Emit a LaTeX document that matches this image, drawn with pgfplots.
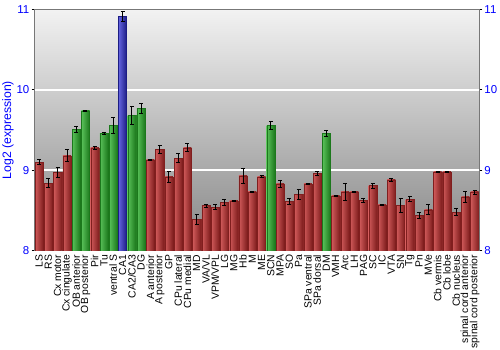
\documentclass[border=0pt]{standalone}
\usepackage{fontspec}
\setmainfont{Liberation Sans}
\usepackage{pgfplots}
\pgfplotsset{compat=1.18}
\usepackage{pgfplotstable}
\definecolor{redL}{HTML}{D05A5A}
\definecolor{redD}{HTML}{801E1E}
\definecolor{greenL}{HTML}{5AC25A}
\definecolor{greenD}{HTML}{1C781C}
\definecolor{blueL}{HTML}{6464E0}
\definecolor{blueD}{HTML}{1C1C84}
\definecolor{bgTop}{HTML}{F2F2F2}
\definecolor{bgBot}{HTML}{858585}
\definecolor{frame}{HTML}{777777}

\pgfplotstableread{
x y e
0 9.10 0.03
1 8.84 0.056
2 8.97 0.06
3 9.18 0.075
6 9.28 0.02
12 9.13 0.01
13 9.26 0.05
14 8.92 0.07
15 9.15 0.055
16 9.28 0.05
17 8.39 0.06
18 8.56 0.02
19 8.54 0.03
20 8.60 0.04
21 8.62 0.01
22 8.93 0.09
23 8.73 0.01
24 8.92 0.01
26 8.83 0.04
27 8.61 0.04
28 8.70 0.06
29 8.83 0.01
30 8.96 0.02
32 8.68 0.01
33 8.73 0.11
34 8.73 0.01
35 8.63 0.025
36 8.81 0.03
37 8.57 0.01
38 8.88 0.015
39 8.56 0.09
40 8.64 0.03
41 8.44 0.04
42 8.51 0.06
43 8.98 0.01
44 8.98 0.01
45 8.48 0.045
46 8.67 0.07
47 8.73 0.025
}\redtab

\pgfplotstableread{
x y e
4 9.51 0.04
5 9.74 0.005
7 9.46 0.01
8 9.56 0.10
10 9.68 0.11
11 9.77 0.06
25 9.56 0.05
31 9.46 0.04
}\greentab

\pgfplotstableread{
x y e
9 10.91 0.06
}\bluetab

\pgfplotsset{
  myerr/.style={
    error bars/.cd, y dir=both, y explicit,
    error bar style={black, line width=0.8bp},
    error mark options={rotate=90, black, mark size=2bp, line width=0.8bp}
  },
  onebar/.style={bar shift=0pt, x filter/.expression={abs(x-#1)<0.1 ? x : nan}},
}

\begin{document}
\begin{tikzpicture}
\useasboundingbox (-34.5bp,-99.3bp) rectangle (465.5bp,250.7bp);
\begin{axis}[
  at={(0,0)}, anchor=south west,
  scale only axis, width=444.8bp, height=241.4bp,
  xmin=-0.5, xmax=47.5, ymin=8, ymax=11,
  ybar, bar width=0.88,
  xtick={0,...,47},
  xticklabels={LS,RS,Cx motor,Cx cingulate,OB anterior,OB posterior,Pir,Tu,ventral S,CA1,CA2/CA3,DG,A anterior,A posterior,GP,CPu lateral,CPu medial,MD,VA/VL,VPM/VPL,LG,MG,Hb,M,ME,SCN,MPA,SO,Pa,SPa ventral,SPa dorsal,DM,VMH,Arc,LH,PAG,SC,IC,VTA,SN,Tg,Pn,MVe,Cb vermis,Cb lobe,Cb nucleus,spinal cord anterior,spinal cord posterior},
  xticklabel style={rotate=90, anchor=east, font=\fontsize{10.4}{11}\selectfont, inner sep=1pt, black},
  xtick style={draw=none},
  ytick={8,9,10,11}, ytick pos=left, tick align=outside, major tick length=3bp,
  ytick style={black, line width=1bp},
  yticklabel style={blue, font=\fontsize{11.5}{12}\selectfont, inner sep=2pt},
  /pgf/number format/assume math mode=true,
  ymajorgrids, grid style={white, line width=1.5bp},
  axis line style={draw=frame, line width=1bp},
  axis background/.style={top color=bgTop, bottom color=bgBot},
  ylabel={Log2 (expression)},
  ylabel style={blue, font=\fontsize{12.3}{13}\selectfont, at={(axis description cs:-0.0596,0.5)}, anchor=center},
]
\pgfplotsinvokeforeach{0,1,2,3,6,12,13,14,15,16,17,18,19,20,21,22,23,24,26,27,28,29,30,32,33,34,35,36,37,38,39,40,41,42,43,44,45,46,47}{
\addplot[onebar=#1, draw=redD, line width=0.3bp, left color=redL, right color=redD, myerr] table[x=x, y=y, y error=e]{\redtab};
}
\pgfplotsinvokeforeach{4,5,7,8,10,11,25,31}{
\addplot[onebar=#1, draw=greenD, line width=0.3bp, left color=greenL, right color=greenD, myerr] table[x=x, y=y, y error=e]{\greentab};
}
\addplot[bar shift=0pt, draw=blueD, line width=0.3bp, left color=blueL, right color=blueD, myerr] table[x=x, y=y, y error=e]{\bluetab};
\end{axis}
\begin{axis}[
  at={(0,0)}, anchor=south west,
  scale only axis, width=444.8bp, height=241.4bp,
  xmin=-0.5, xmax=47.5, ymin=8, ymax=11,
  axis x line=none, axis y line*=right,
  ytick={8,9,10,11}, tick align=outside, major tick length=3bp,
  ytick style={black, line width=1bp},
  yticklabel style={blue, font=\fontsize{11.5}{12}\selectfont, inner sep=2pt},
  /pgf/number format/assume math mode=true,
  axis line style={draw=frame, line width=1bp},
]
\end{axis}
\end{tikzpicture}
\end{document}
